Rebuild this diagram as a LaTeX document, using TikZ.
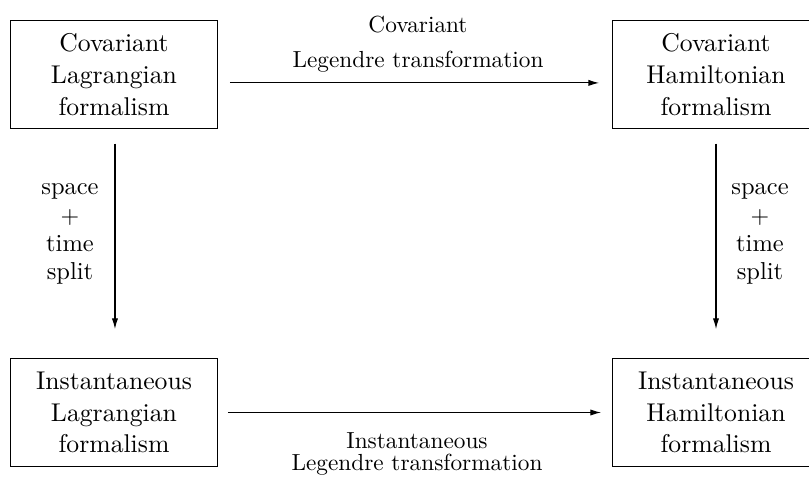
\documentclass[tikz,border=0pt]{standalone}
\usetikzlibrary{arrows.meta}
\begin{document}
\begin{tikzpicture}[x=0.41667pt,y=-0.41667pt,
  box/.style={draw, line width=0.65pt, minimum width=86.25pt, minimum height=45pt,
    inner sep=0pt, align=center, font=\fontsize{10.7}{13.2}\selectfont},
  arr/.style={line width=0.5pt, -{Latex[length=4.5pt,width=2.6pt]}},
  lbl/.style={inner sep=0pt, align=center, anchor=north}]
\useasboundingbox (0,0) rectangle (809,483);
\node[box] (tl) at (114,74.5) {Covariant\\Lagrangian\\formalism};
\node[box] (tr) at (716,74.5) {Covariant\\Hamiltonian\\formalism};
\node[box] (bl) at (114,412.5) {Instantaneous\\Lagrangian\\formalism};
\node[box] (br) at (716,412.5) {Instantaneous\\Hamiltonian\\formalism};
\draw[arr, shorten <=4.8pt, shorten >=5.2pt] ([yshift=-3.5pt]tl.east) -- ([yshift=-3.5pt]tr.west);
\draw[arr, shorten <=4pt, shorten >=4.4pt] (bl.east) -- (br.west);
\draw[arr, shorten <=6pt, shorten >=11.9pt] ([xshift=0.4pt]tl.south) -- ([xshift=0.4pt]bl.north);
\draw[arr, shorten <=6pt, shorten >=11.9pt] (tr.south) -- (br.north);
\node[lbl, font=\fontsize{9.7}{14.6}\selectfont] (toplab) at (418,15.8) {Covariant\\Legendre transformation};
\node[lbl, font=\fontsize{9.7}{9.2}\selectfont] (botlab) at (417,432.1) {Instantaneous\\Legendre transformation};
\node[lbl, font=\fontsize{10.2}{11.7}\selectfont] (leftlab) at (70,183.5) {space\\$+$\\time\\split};
\node[lbl, font=\fontsize{10.2}{11.7}\selectfont] (rightlab) at (760,183.5) {space\\$+$\\time\\split};
\end{tikzpicture}
\end{document}
